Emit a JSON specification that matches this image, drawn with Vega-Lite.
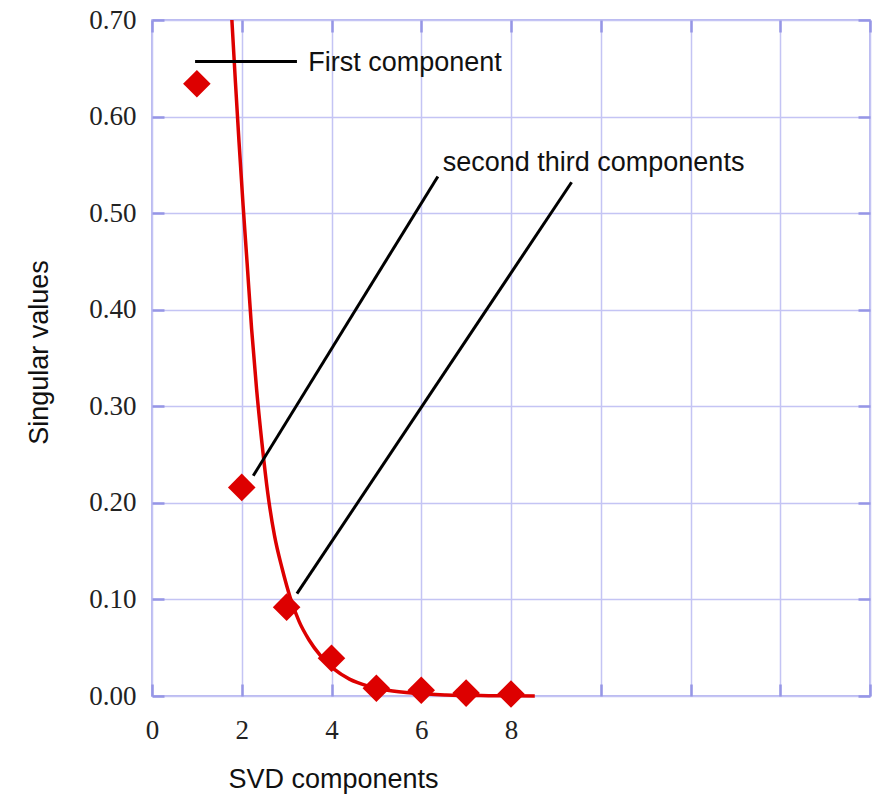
{
  "$schema": "https://vega.github.io/schema/vega-lite/v6.json",
  "width": 718,
  "height": 676,
  "autosize": {"type": "none"},
  "padding": {"left": 152, "top": 20, "right": 12, "bottom": 98},
  "background": "white",
  "config": {
    "view": {"stroke": "#a4a4ec", "strokeWidth": 1.5},
    "font": "Liberation Sans"
  },
  "datasets": {
    "points": [
      {"component": 1, "value": 0.634},
      {"component": 2, "value": 0.216},
      {"component": 3, "value": 0.092},
      {"component": 4, "value": 0.039},
      {"component": 5, "value": 0.008},
      {"component": 6, "value": 0.006},
      {"component": 7, "value": 0.003},
      {"component": 8, "value": 0.002}
    ],
    "fit": [
      {"component": 1.78, "value": 0.700},
      {"component": 1.86, "value": 0.635},
      {"component": 1.94, "value": 0.573},
      {"component": 2.03, "value": 0.508},
      {"component": 2.12, "value": 0.448},
      {"component": 2.22, "value": 0.380},
      {"component": 2.33, "value": 0.318},
      {"component": 2.45, "value": 0.262},
      {"component": 2.58, "value": 0.210},
      {"component": 2.73, "value": 0.166},
      {"component": 2.90, "value": 0.132},
      {"component": 3.08, "value": 0.102},
      {"component": 3.28, "value": 0.077},
      {"component": 3.50, "value": 0.058},
      {"component": 3.75, "value": 0.042},
      {"component": 4.05, "value": 0.028},
      {"component": 4.40, "value": 0.0175},
      {"component": 4.80, "value": 0.0105},
      {"component": 5.25, "value": 0.006},
      {"component": 5.85, "value": 0.0028},
      {"component": 6.55, "value": 0.0011},
      {"component": 7.50, "value": 0.0003},
      {"component": 8.53, "value": 0.0}
    ],
    "leaders": [
      {"x1": 0.96, "y1": 0.657, "x2": 3.23, "y2": 0.657},
      {"x1": 2.256, "y1": 0.228, "x2": 6.37, "y2": 0.538},
      {"x1": 3.23, "y1": 0.106, "x2": 9.35, "y2": 0.532}
    ],
    "labels": [
      {"x": 3.483, "y": 0.6475, "text": "First component"},
      {"x": 6.478, "y": 0.544, "text": "second third components"}
    ]
  },
  "resolve": {"axis": {"x": "independent", "y": "independent"}},
  "layer": [
    {
      "data": {"name": "fit"},
      "mark": {"type": "line", "color": "#dd0000", "strokeWidth": 3.5, "interpolate": "monotone"},
      "encoding": {
        "x": {
          "field": "component", "type": "quantitative",
          "scale": {"domain": [0, 16], "nice": false, "zero": false},
          "axis": {
            "orient": "bottom",
            "values": [0, 2, 4, 6, 8, 10, 12, 14, 16],
            "labelExpr": "datum.value <= 8 ? datum.label : ''",
            "grid": true, "gridColor": "#c4c4f4", "gridWidth": 1.5,
            "domain": false,
            "ticks": true, "tickSize": -12, "tickColor": "#9696e6", "tickWidth": 2.5,
            "labelFont": "Liberation Serif", "labelFontSize": 27, "labelColor": "#222222",
            "labelPadding": 33, "labelFlush": false,
            "title": "SVD components",
            "titleFont": "Liberation Sans", "titleFontSize": 27, "titleFontWeight": "normal",
            "titleColor": "#111111",
            "titleX": 181, "titleY": 91.7, "titleAlign": "center", "titleBaseline": "alphabetic"
          }
        },
        "y": {
          "field": "value", "type": "quantitative",
          "scale": {"domain": [0, 0.7], "nice": false},
          "axis": {
            "orient": "left",
            "values": [0, 0.1, 0.2, 0.3, 0.4, 0.5, 0.6, 0.7],
            "format": ".2f",
            "grid": true, "gridColor": "#c4c4f4", "gridWidth": 1.5,
            "domain": false,
            "ticks": true, "tickSize": -12, "tickColor": "#9696e6", "tickWidth": 2.5,
            "labelFont": "Liberation Serif", "labelFontSize": 27, "labelColor": "#222222",
            "labelPadding": 28, "labelFlush": false,
            "title": "Singular values",
            "titleFont": "Liberation Sans", "titleFontSize": 27, "titleFontWeight": "normal",
            "titleColor": "#111111",
            "titleX": -105, "titleY": 332, "titleAngle": 270, "titleAlign": "center", "titleBaseline": "alphabetic"
          }
        }
      }
    },
    {
      "data": {"name": "points"},
      "mark": {"type": "point", "shape": "diamond", "filled": true, "color": "#dd0000", "size": 760, "opacity": 1},
      "encoding": {
        "x": {
          "field": "component", "type": "quantitative",
          "axis": {
            "orient": "top", "values": [0, 2, 4, 6, 8, 10, 12, 14, 16],
            "labels": false, "grid": false, "domain": false,
            "ticks": true, "tickSize": -12, "tickColor": "#9696e6", "tickWidth": 2.5, "title": null
          }
        },
        "y": {
          "field": "value", "type": "quantitative",
          "axis": {
            "orient": "right", "values": [0, 0.1, 0.2, 0.3, 0.4, 0.5, 0.6, 0.7],
            "labels": false, "grid": false, "domain": false,
            "ticks": true, "tickSize": -12, "tickColor": "#9696e6", "tickWidth": 2.5, "title": null
          }
        }
      }
    },
    {
      "data": {"name": "leaders"},
      "mark": {"type": "rule", "color": "#000000", "strokeWidth": 3},
      "encoding": {
        "x": {"field": "x1", "type": "quantitative", "axis": null},
        "y": {"field": "y1", "type": "quantitative", "axis": null},
        "x2": {"field": "x2"},
        "y2": {"field": "y2"}
      }
    },
    {
      "data": {"name": "labels"},
      "mark": {"type": "text", "font": "Liberation Sans", "fontSize": 27, "align": "left", "baseline": "alphabetic", "color": "#111111"},
      "encoding": {
        "x": {"field": "x", "type": "quantitative", "axis": null},
        "y": {"field": "y", "type": "quantitative", "axis": null},
        "text": {"field": "text"}
      }
    }
  ]
}
